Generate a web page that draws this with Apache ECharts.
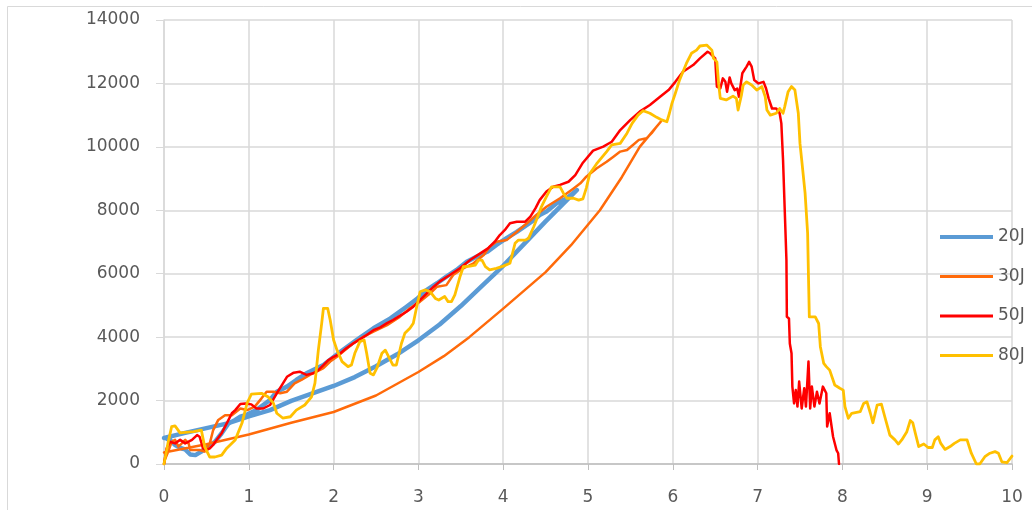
<!DOCTYPE html>
<html><head><meta charset="utf-8">
<script src="https://cdn.jsdelivr.net/npm/echarts@6/dist/echarts.min.js"></script>
<style>html,body{margin:0;padding:0;background:#fff;overflow:hidden}#c{width:1032px;height:510px}</style>
</head><body><div id="c"></div>
<script>
const seriesNames = ['20J','30J','50J','80J'];
const xTicks = [0,1,2,3,4,5,6,7,8,9,10];
const yTicks = [0,2000,4000,6000,8000,10000,12000,14000];

const data20J = [[0,820],[0.25,980],[0.5,1130],[0.75,1280],[1,1500],[1.25,1700],[1.5,1990],[1.75,2230],[2,2460],[2.25,2740],[2.5,3080],[2.75,3460],[3,3900],[3.25,4400],[3.5,4980],[3.75,5620],[4,6250],[4.25,6950],[4.5,7650],[4.75,8320],[4.87,8640],
[4.87,8590],[4.75,8380],[4.63,8220],[4.51,7960],[4.43,7850],[4.36,7690],[4.28,7540],[4.16,7320],[4.04,7120],[3.92,6910],[3.81,6690],[3.69,6540],[3.57,6380],[3.45,6120],[3.33,5910],[3.22,5700],[3.10,5490],[2.98,5200],[2.86,4960],[2.67,4590],[2.47,4280],[2.27,3910],[2.08,3540],[1.88,3120],[1.68,2860],[1.56,2650],[1.45,2440],[1.33,2280],[1.25,2020],[1.17,1860],[1.09,1700],[0.98,1560],[0.90,1490],[0.84,1390],[0.76,1280],[0.68,970],[0.60,700],[0.52,550],[0.44,390],[0.37,280],[0.31,300],[0.25,460],[0.21,490],[0.13,600],[0.07,760],[0.03,800]];

const data30J = [[0,360],[0.5,620],[1,930],[1.5,1300],[2,1640],[2.5,2160],[3,2900],[3.3,3400],[3.6,4000],[4,4900],[4.5,6050],[4.8,6900],[5.14,8000],[5.4,9050],[5.61,10000],[5.75,10450],[5.86,10800],
[5.81,10640],[5.75,10430],[5.69,10270],[5.60,10220],[5.53,10060],[5.46,9900],[5.38,9850],[5.30,9690],[5.22,9530],[5.10,9320],[4.98,9060],[4.91,8850],[4.83,8690],[4.67,8380],[4.51,8110],[4.39,7850],[4.28,7590],[4.16,7320],[4.04,7060],[3.92,7010],[3.84,6850],[3.77,6590],[3.65,6330],[3.53,6170],[3.41,5960],[3.33,5640],[3.22,5590],[3.14,5380],[3.02,5120],[2.90,4910],[2.78,4640],[2.63,4380],[2.47,4170],[2.35,4010],[2.23,3800],[2.11,3540],[2.04,3380],[1.96,3230],[1.88,3020],[1.80,2910],[1.72,2810],[1.62,2650],[1.54,2540],[1.45,2280],[1.37,2230],[1.29,2280],[1.21,2280],[1.15,2070],[1.07,1810],[0.98,1700],[0.90,1750],[0.80,1540],[0.72,1540],[0.64,1390],[0.58,1070],[0.54,650],[0.48,390],[0.42,440],[0.31,440],[0.29,650],[0.25,760],[0.21,650],[0.17,550],[0.13,760],[0.09,700],[0.05,390],[0.01,130],[0,0]];

const data50J = [[0,0],[0.03,490],[0.07,700],[0.13,650],[0.19,760],[0.25,650],[0.33,760],[0.39,910],[0.42,860],[0.46,490],[0.50,440],[0.54,490],[0.58,600],[0.62,760],[0.68,970],[0.72,1180],[0.77,1440],[0.80,1600],[0.84,1700],[0.90,1890],[0.96,1910],[1.03,1880],[1.09,1750],[1.17,1750],[1.25,1860],[1.33,2230],[1.39,2490],[1.45,2750],[1.53,2880],[1.60,2910],[1.68,2810],[1.76,2860],[1.82,2960],[1.88,3120],[1.94,3280],[2.0,3380],[2.08,3490],[2.15,3650],[2.23,3800],[2.31,3930],[2.39,4070],[2.47,4220],[2.55,4310],[2.63,4440],[2.70,4540],[2.78,4670],[2.86,4800],[2.94,4960],[3.0,5120],[3.18,5590],[3.25,5750],[3.37,5960],[3.49,6170],[3.61,6430],[3.73,6640],[3.82,6800],[3.90,7010],[3.96,7220],[4.02,7380],[4.08,7590],[4.16,7640],[4.26,7640],[4.32,7800],[4.38,8060],[4.43,8320],[4.51,8590],[4.59,8740],[4.67,8800],[4.77,8900],[4.85,9110],[4.94,9500],[5.06,9880],[5.18,10010],[5.28,10160],[5.38,10530],[5.50,10850],[5.61,11110],[5.73,11320],[5.85,11580],[5.95,11790],[6.03,12050],[6.12,12370],[6.24,12580],[6.32,12790],[6.41,13000],[6.44,12950],[6.50,12790],[6.51,12320],[6.52,11900],[6.56,11840],[6.59,12160],[6.62,12050],[6.64,11740],[6.67,12190],[6.69,12000],[6.73,11790],[6.76,11840],[6.78,11580],[6.82,12320],[6.87,12530],[6.90,12680],[6.93,12530],[6.96,12110],[7.01,12000],[7.07,12050],[7.10,11840],[7.13,11530],[7.17,11210],[7.22,11210],[7.26,11060],[7.28,10740],[7.30,9590],[7.32,8010],[7.34,6430],[7.345,4640],[7.37,4590],[7.38,3800],[7.40,3490],[7.41,2440],[7.43,1910],[7.45,2330],[7.47,1810],[7.49,2600],[7.52,1750],[7.55,2390],[7.57,1810],[7.60,3230],[7.62,1750],[7.64,2440],[7.67,1810],[7.70,2280],[7.73,1910],[7.77,2440],[7.81,2230],[7.82,1180],[7.85,1600],[7.89,860],[7.91,860],[7.93,440],[7.95,340],[7.97,390],[7.96,0]];

const data80J = [[0,0],[0.05,700],[0.09,1175],[0.13,1200],[0.19,980],[0.25,1000],[0.35,1020],[0.44,1070],[0.48,540],[0.54,220],[0.60,220],[0.68,280],[0.74,500],[0.84,760],[0.92,1290],[0.98,1920],[1.03,2200],[1.15,2230],[1.23,2110],[1.29,1920],[1.33,1600],[1.40,1450],[1.49,1490],[1.56,1700],[1.66,1860],[1.74,2120],[1.78,2550],[1.82,3590],[1.86,4440],[1.88,4910],[1.93,4910],[1.96,4540],[2.0,3910],[2.04,3590],[2.10,3230],[2.17,3070],[2.21,3120],[2.25,3490],[2.31,3860],[2.36,3910],[2.39,3490],[2.43,2860],[2.47,2810],[2.51,3020],[2.57,3490],[2.61,3590],[2.65,3380],[2.70,3120],[2.74,3120],[2.80,3800],[2.84,4120],[2.90,4280],[2.94,4440],[2.98,4960],[3.02,5430],[3.08,5490],[3.14,5430],[3.20,5220],[3.24,5170],[3.31,5280],[3.35,5120],[3.39,5120],[3.43,5330],[3.49,5900],[3.53,6220],[3.61,6240],[3.67,6270],[3.71,6430],[3.75,6430],[3.79,6220],[3.84,6120],[3.92,6170],[4.0,6240],[4.08,6330],[4.14,6960],[4.18,7060],[4.26,7060],[4.30,7120],[4.36,7480],[4.40,7750],[4.45,8110],[4.51,8430],[4.57,8740],[4.67,8740],[4.71,8540],[4.75,8380],[4.83,8380],[4.89,8320],[4.94,8360],[4.98,8700],[5.02,9150],[5.10,9460],[5.22,9850],[5.28,10060],[5.38,10110],[5.46,10430],[5.52,10740],[5.59,11000],[5.65,11140],[5.73,11060],[5.81,10930],[5.87,10850],[5.93,10790],[5.96,11060],[5.99,11370],[6.03,11690],[6.08,12110],[6.16,12630],[6.22,12950],[6.28,13050],[6.32,13180],[6.40,13210],[6.46,13050],[6.48,12790],[6.52,12680],[6.54,12000],[6.56,11530],[6.63,11480],[6.71,11600],[6.75,11530],[6.77,11160],[6.79,11160],[6.81,11640],[6.83,11950],[6.87,12050],[6.93,11950],[6.99,11790],[7.05,11900],[7.09,11580],[7.11,11160],[7.15,11000],[7.22,11060],[7.26,11210],[7.30,11060],[7.32,11270],[7.36,11740],[7.40,11900],[7.44,11790],[7.48,11060],[7.50,10100],[7.52,9590],[7.56,8540],[7.59,7270],[7.60,5900],[7.61,4640],[7.68,4640],[7.72,4430],[7.74,3700],[7.78,3170],[7.81,3070],[7.85,2960],[7.91,2490],[7.97,2390],[8.01,2330],[8.03,1810],[8.07,1440],[8.11,1600],[8.21,1650],[8.25,1910],[8.29,1960],[8.33,1600],[8.36,1300],[8.38,1300],[8.41,1860],[8.46,1890],[8.50,1490],[8.56,910],[8.62,760],[8.66,630],[8.70,760],[8.76,1020],[8.80,1370],[8.83,1300],[8.86,970],[8.90,550],[8.96,630],[9.01,520],[9.06,520],[9.09,760],[9.13,860],[9.16,650],[9.21,460],[9.27,550],[9.32,650],[9.39,760],[9.47,760],[9.52,340],[9.58,0],[9.62,0],[9.68,230],[9.74,340],[9.80,390],[9.84,340],[9.88,70],[9.94,40],[10.0,250]];

const allData = [data20J, data30J, data50J, data80J];
const colors = ['#5B9BD5','#FF6A0A','#FF0000','#FFC000'];
const widths = [4.5, 2.5, 2.5, 2.8];

const FONT = 'DejaVu Sans';
const chart = echarts.init(document.getElementById('c'), null, {renderer:'canvas'});
chart.setOption({
  animation:false,
  backgroundColor:'#fff',
  graphic:[{type:'rect', silent:true, shape:{x:7.5,y:6.5,width:1100,height:600}, style:{fill:'none',stroke:'#D9D9D9',lineWidth:1}}],
  grid:{left:164,right:20,top:20,bottom:46,containLabel:false},
  legend:{
    orient:'vertical', left:940, top:227, padding:0, itemWidth:53, itemHeight:4, itemGap:19.5,
    symbolKeepAspect:true,
    data:seriesNames.map((n,i)=>({name:n, icon: i===0 ? 'rect' : 'path://M0,0h53v3h-53z'})),
    textStyle:{fontFamily:FONT,fontSize:17,color:'#595959',lineHeight:20,height:20}
  },
  xAxis:{
    type:'value', min:xTicks[0], max:xTicks[xTicks.length-1], interval:1,
    axisLine:{show:true,lineStyle:{color:'#BFBFBF',width:1.5}},
    axisTick:{show:true,inside:false,length:6,lineStyle:{color:'#BFBFBF'}},
    splitLine:{show:true,lineStyle:{color:'#D9D9D9',width:1.5}},
    axisLabel:{fontFamily:FONT,fontSize:17,color:'#595959',margin:25}
  },
  yAxis:{
    type:'value', min:yTicks[0], max:yTicks[yTicks.length-1], interval:2000,
    axisLine:{show:true,lineStyle:{color:'#D9D9D9',width:1.5}},
    axisTick:{show:true,inside:false,length:8,lineStyle:{color:'#D9D9D9'}},
    splitLine:{show:true,lineStyle:{color:'#D9D9D9',width:1.5}},
    axisLabel:{fontFamily:FONT,fontSize:17,color:'#595959',margin:24,formatter:(v)=>String(v)}
  },
  series: seriesNames.map((n,i)=>({
    name:n, type:'line', data:allData[i], showSymbol:false, symbol:'none',
    smooth:false, clip:true,
    lineStyle:{color:colors[i],width:widths[i],cap:'round',join:'round'},
    itemStyle:{color:colors[i]}
  }))
});
</script></body></html>
